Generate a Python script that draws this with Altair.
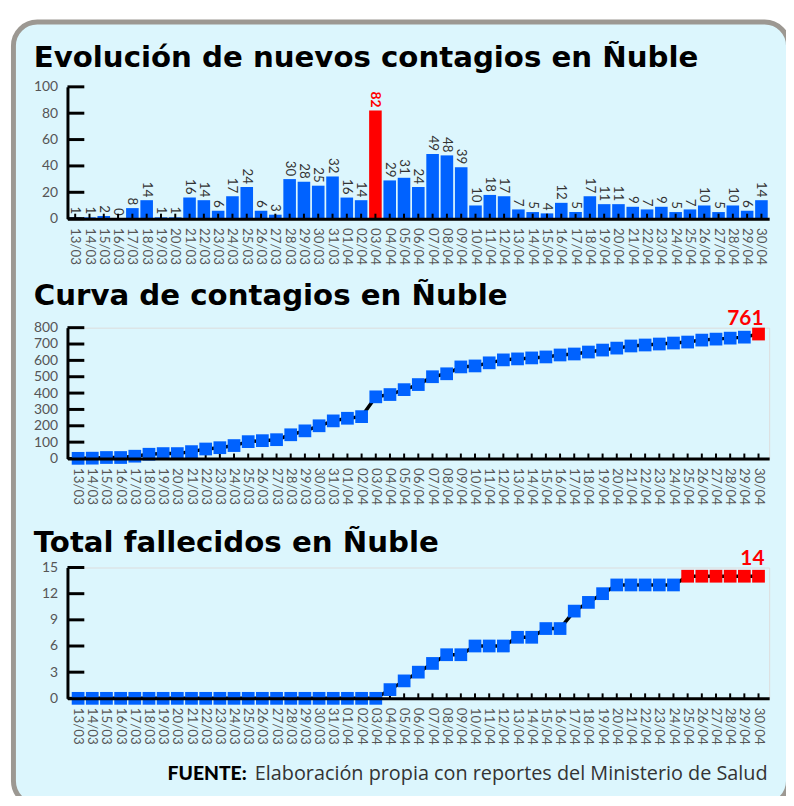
import altair as alt
import pandas as pd

# ---------------- data ----------------
dates = ["13/03", "14/03", "15/03", "16/03", "17/03", "18/03", "19/03", "20/03", "21/03",
         "22/03", "23/03", "24/03", "25/03", "26/03", "27/03", "28/03", "29/03", "30/03",
         "31/03", "01/04", "02/04", "03/04", "04/04", "05/04", "06/04", "07/04", "08/04",
         "09/04", "10/04", "11/04", "12/04", "13/04", "14/04", "15/04", "16/04", "17/04",
         "18/04", "19/04", "20/04", "21/04", "22/04", "23/04", "24/04", "25/04", "26/04",
         "27/04", "28/04", "29/04", "30/04"]

nuevos = [1, 1, 2, 0, 8, 14, 1, 1, 16, 14, 6, 17, 24, 6, 3, 30, 28, 25, 32, 16, 14, 82,
          29, 31, 24, 49, 48, 39, 10, 18, 17, 7, 5, 4, 12, 5, 17, 11, 11, 9, 7, 9, 5, 7,
          10, 5, 10, 6, 14]

acumulados = [1, 2, 6, 6, 14, 26, 30, 30, 42, 58, 66, 79, 103, 109, 115, 145, 169, 200,
              230, 246, 256, 377, 391, 421, 452, 500, 518, 560, 566, 585, 603, 609, 615,
              621, 633, 639, 651, 663, 675, 688, 694, 700, 706, 712, 724, 730, 736, 742, 761]

fallecidos = [0, 0, 0, 0, 0, 0, 0, 0, 0, 0, 0, 0, 0, 0, 0, 0, 0, 0, 0, 0, 0, 0,
              1, 2, 3, 4, 5, 5, 6, 6, 6, 7, 7, 8, 8, 10, 11, 12, 13, 13, 13, 13, 13,
              14, 14, 14, 14, 14, 14]

ticks1 = [0, 20, 40, 60, 80, 100]
ticks2 = [0, 100, 200, 300, 400, 500, 600, 700, 800]
ticks3 = [0, 3, 6, 9, 12, 15]

titulo1 = "Evolución de nuevos contagios en Ñuble"
titulo2 = "Curva de contagios en Ñuble"
titulo3 = "Total fallecidos en Ñuble"
fuente_b = "FUENTE:"
fuente_t = "Elaboración propia con reportes del Ministerio de Salud"

# ---------------- style ----------------
BLUE = "#0062ff"
RED = "#ff0000"
BG = "#dcf6fd"
BORDER = "#9c9892"
LBL = "#555555"
W = 708
TITLE_FONT = "DejaVu Sans"
FONT = "Lato"

one = pd.DataFrame({"k": [0]})

color_enc = alt.Color("hl:N", scale=alt.Scale(domain=["no", "si"], range=[BLUE, RED]), legend=None)


def x_axis():
    return alt.Axis(title=None, labelAngle=90, labelFont=FONT, labelFontSize=13.5,
                    labelColor=LBL, labelPadding=9, ticks=False, tickSize=0,
                    domainColor="black", domainWidth=3, grid=False, zindex=1)


def y_axis(vals):
    return alt.Axis(title=None, values=vals, labelFont=FONT, labelFontSize=14,
                    labelColor=LBL, labelPadding=10, ticks=False, tickSize=0,
                    domainColor="black", domainWidth=3, grid=False, zindex=1)


def title_layer(text, dy):
    return alt.Chart(one).mark_text(
        align="left", baseline="alphabetic", font=TITLE_FONT, fontWeight="bold",
        fontSize=29.5, color="black"
    ).encode(x=alt.value(-34), y=alt.value(dy), text=alt.value(text))


def ytick_layer(vals, dom):
    d = pd.DataFrame({"valor": vals})
    return alt.Chart(d).mark_tick(
        color="black", thickness=3, size=17, opacity=1, orient="horizontal"
    ).encode(
        y=alt.Y("valor:Q", scale=alt.Scale(domain=dom), axis=y_axis(vals)),
        x=alt.value(8.5))


def xtick_layer(df, X, H):
    return alt.Chart(df).mark_tick(
        color="black", thickness=2, size=5, opacity=1, orient="vertical"
    ).encode(x=X, y=alt.value(H - 2.5))


# ---------------- panel 1: bars ----------------
H1 = 133
df1 = pd.DataFrame({"fecha": dates, "valor": nuevos})
df1["hl"] = (df1["valor"] == df1["valor"].max()).map({True: "si", False: "no"})
xs1 = alt.Scale(paddingInner=0.12, paddingOuter=0.1)
ys1 = alt.Scale(domain=[0, 100])
X1 = alt.X("fecha:N", sort=dates, scale=xs1, axis=x_axis())
Y1 = alt.Y("valor:Q", scale=ys1, axis=y_axis(ticks1))

bgrect = alt.Chart(one).mark_rect(
    fill=BG, stroke=BORDER, strokeWidth=5, cornerRadius=24
).encode(x=alt.value(-54.5), x2=alt.value(727.5), y=alt.value(-65.5), y2=alt.value(724.5))

bars = alt.Chart(df1).mark_bar().encode(x=X1, y=Y1, color=color_enc)
lab1 = alt.Chart(df1).transform_filter(alt.datum.hl == "no").mark_text(
    angle=90, align="right", baseline="middle", dx=-3, font=FONT, fontSize=13.5, color="#333333"
).encode(x=X1, y=Y1, text="valor:Q")
lab1r = alt.Chart(df1).transform_filter(alt.datum.hl == "si").mark_text(
    angle=90, align="right", baseline="middle", dx=-3, font=FONT, fontSize=14,
    fontWeight="bold", color=RED
).encode(x=X1, y=Y1, text="valor:Q")

p1 = alt.layer(
    bgrect, bars, lab1, lab1r,
    ytick_layer(ticks1, [0, 100]),
    xtick_layer(df1, X1, H1),
    title_layer(titulo1, -20),
).properties(width=W, height=H1)

# ---------------- panel 2: cumulative ----------------
H2 = 132
df2 = pd.DataFrame({"fecha": dates, "valor": acumulados})
df2["hl"] = ["si" if f == dates[-1] else "no" for f in df2["fecha"]]
xs2 = alt.Scale(padding=0.5)
X2 = alt.X("fecha:O", sort=dates, scale=xs2, axis=x_axis())
Y2 = alt.Y("valor:Q", scale=alt.Scale(domain=[0, 800]), axis=y_axis(ticks2))

line2 = alt.Chart(df2).mark_line(color="black", strokeWidth=3.5).encode(x=X2, y=Y2)
pts2 = alt.Chart(df2).mark_square(size=165, opacity=1).encode(x=X2, y=Y2, color=color_enc)
lab2 = alt.Chart(df2).transform_filter(alt.datum.fecha == dates[-1]).mark_text(
    align="right", baseline="alphabetic", dx=5, dy=-9, font=FONT, fontSize=21,
    fontWeight="bold", color=RED
).encode(x=X2, y=Y2, text="valor:Q")

p2 = alt.layer(
    xtick_layer(df2, X2, H2),
    ytick_layer(ticks2, [0, 800]),
    line2, pts2, lab2,
    title_layer(titulo2, -23),
).properties(width=W, height=H2)

# ---------------- panel 3: deaths ----------------
H3 = 132
df3 = pd.DataFrame({"fecha": dates, "valor": fallecidos})
df3["hl"] = (df3["valor"] == df3["valor"].max()).map({True: "si", False: "no"})
xs3 = alt.Scale(padding=0.5)
X3 = alt.X("fecha:O", sort=dates, scale=xs3, axis=x_axis())
Y3 = alt.Y("valor:Q", scale=alt.Scale(domain=[0, 15]), axis=y_axis(ticks3))

line3 = alt.Chart(df3).mark_line(color="black", strokeWidth=3.5).encode(x=X3, y=Y3)
pts3 = alt.Chart(df3).mark_square(size=165, opacity=1).encode(x=X3, y=Y3, color=color_enc)
lab3 = alt.Chart(df3).transform_filter(alt.datum.fecha == dates[-1]).mark_text(
    align="right", baseline="alphabetic", dx=6, dy=-11, font=FONT, fontSize=21,
    fontWeight="bold", color=RED
).encode(x=X3, y=Y3, text="valor:Q")

foot_b = alt.Chart(one).mark_text(
    align="left", baseline="alphabetic", font=FONT, fontSize=19.5, fontWeight=900, color="black"
).encode(x=alt.value(101), y=alt.value(214), text=alt.value(fuente_b))
foot_t = alt.Chart(one).mark_text(
    align="left", baseline="alphabetic", font="Open Sans", fontSize=20, color="#333333"
).encode(x=alt.value(189), y=alt.value(214), text=alt.value(fuente_t))

p3 = alt.layer(
    xtick_layer(df3, X3, H3),
    ytick_layer(ticks3, [0, 15]),
    line3, pts3, lab3, foot_b, foot_t,
    title_layer(titulo3, -16),
).properties(width=W, height=H3)

chart = alt.vconcat(p1, p2, p3, spacing=110, bounds="flush").properties(
    padding={"left": 2, "top": 7, "right": -6, "bottom": -16}
).configure_view(stroke="transparent", strokeWidth=0).configure_axis(grid=False).configure(
    background="white")

chart.save("out.html", embed_options={"renderer": "svg", "actions": False})
